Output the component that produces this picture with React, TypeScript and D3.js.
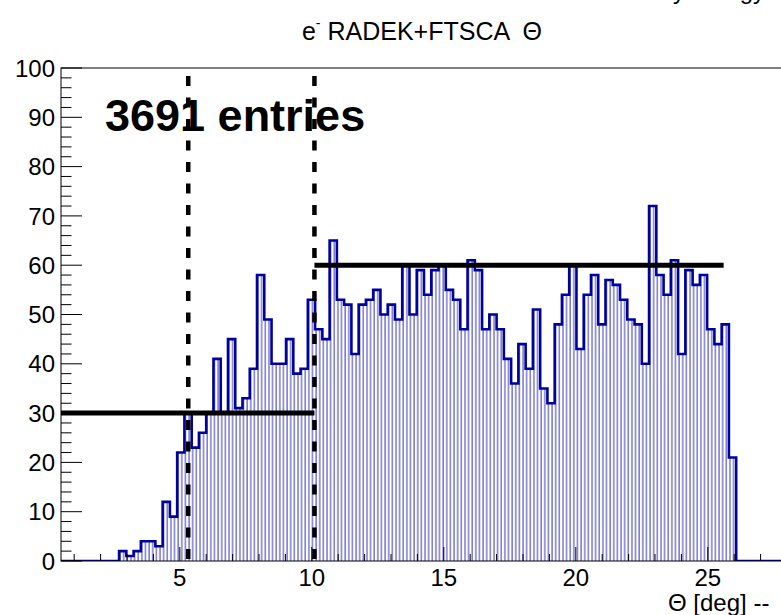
import * as d3 from "d3";
import React from "react";

// histogram: 100 bins over the axis range
const xMin = 0.5;
const xMax = 28.0;
const nBins = 100;
const counts = [
  0, 0, 0, 0, 0, 0, 0, 0,
  2, 1, 2, 4, 4, 3, 12, 9, 22, 30, 23, 26, 30, 41, 30, 45, 31, 33, 39, 58,
  49, 40, 40, 45, 38, 39, 53, 47, 45, 65, 53, 52, 42, 52, 53, 55, 50, 52,
  49, 60, 50, 59, 54, 59, 60, 55, 53, 47, 61, 59, 47, 50, 47, 41, 36, 44,
  39, 51, 35, 32, 48, 54, 60, 43, 54, 58, 48, 57, 56, 53, 49, 48, 40, 72,
  58, 54, 61, 42, 59, 56, 58, 47, 44, 48, 21,
  0, 0, 0, 0, 0, 0, 0,
];
const cutLines = [5.32, 10.1];
const levelLines = [
  { from: 0.5, to: 10.1, value: 30 },
  { from: 10.1, to: 25.6, value: 60 },
];
const xLabels = [5, 10, 15, 20, 25];
const yLabels = [0, 10, 20, 30, 40, 50, 60, 70, 80, 90, 100];
const title = "RADEK+FTSCA  Θ";
const entriesLabel = "3691 entries";
const xTitle = "Θ [deg] --";
const cornerLabel = "Entry energy";

const W = 781;
const H = 615;
const frame = { left: 61, right: 787, top: 68, bottom: 561 };
const font = "'Liberation Sans', Arial, Helvetica, sans-serif";

export default function App() {
  const x = d3.scaleLinear().domain([xMin, xMax]).range([frame.left, frame.right]);
  const y = d3.scaleLinear().domain([0, 100]).range([frame.bottom, frame.top]);
  const bw = (xMax - xMin) / nBins;

  const pts: [number, number][] = counts.map((c, i) => [xMin + i * bw, c]);
  pts.push([xMax, counts[counts.length - 1]]);

  const line = d3
    .line<[number, number]>()
    .x((d) => x(d[0]))
    .y((d) => y(d[1]))
    .curve(d3.curveStepAfter);
  const area = d3
    .area<[number, number]>()
    .x((d) => x(d[0]))
    .y0(y(0))
    .y1((d) => y(d[1]))
    .curve(d3.curveStepAfter);

  const yTicks = d3.range(0, 101, 2);
  const xTicks = d3.range(1, 28.01, 1);
  const hatchStep = (x(xMin + bw) - x(xMin)) / 2;

  return (
    <svg
      width={W}
      height={H}
      style={{ position: "absolute", left: 0, top: 0, background: "#fff" }}
      fontFamily={font}
    >
      <defs>
        <pattern id="hatch" patternUnits="userSpaceOnUse" width={hatchStep} height={10} x={frame.left}>
          <line x1={1} x2={1} y1={0} y2={10} stroke="#4848bc" strokeWidth={1.1} />
        </pattern>
        <clipPath id="plot">
          <rect x={frame.left} y={frame.top - 3} width={W - frame.left} height={frame.bottom - frame.top + 3} />
        </clipPath>
      </defs>

      {/* label cut off by the top edge, only descenders show */}
      <text x={765} y={-1} fontSize={24} textAnchor="end">{cornerLabel}</text>

      <text x={422} y={40} fontSize={25} textAnchor="middle" xmlSpace="preserve" style={{ whiteSpace: "pre" }}>
        e<tspan fontSize={14} dy={-12}>-</tspan>
        <tspan dy={12}>{" " + title}</tspan>
      </text>

      <g clipPath="url(#plot)">
        <path d={area(pts) ?? ""} fill="url(#hatch)" />
        <path d={line(pts) ?? ""} fill="none" stroke="#00009c" strokeWidth={2.6} />
      </g>

      {/* frame */}
      <rect
        x={frame.left}
        y={frame.top}
        width={frame.right - frame.left}
        height={frame.bottom - frame.top}
        fill="none"
        stroke="#000"
        strokeWidth={1}
      />

      {yTicks.map((t) => (
        <line
          key={"yt" + t}
          x1={frame.left}
          x2={frame.left + (t % 10 === 0 ? 21 : 10.5)}
          y1={y(t)}
          y2={y(t)}
          stroke="#000"
          strokeWidth={1}
        />
      ))}
      {xTicks.map((t) => (
        <line
          key={"xt" + t}
          x1={x(t)}
          x2={x(t)}
          y1={frame.bottom}
          y2={frame.bottom - (t % 5 === 0 ? 14 : 7)}
          stroke="#000"
          strokeWidth={1}
        />
      ))}
      {yLabels.map((t) => (
        <text key={"yl" + t} x={55} y={y(t)} dy="0.36em" fontSize={24} textAnchor="end">
          {t}
        </text>
      ))}
      {xLabels.map((t) => (
        <text key={"xl" + t} x={x(t)} y={586} fontSize={24} textAnchor="middle">
          {t}
        </text>
      ))}
      <text x={668} y={611} fontSize={24}>{xTitle}</text>

      <text x={105} y={131} fontSize={45} fontWeight="bold">{entriesLabel}</text>

      {levelLines.map((l, i) => (
        <line
          key={"lv" + i}
          x1={x(l.from)}
          x2={x(l.to)}
          y1={y(l.value)}
          y2={y(l.value)}
          stroke="#000"
          strokeWidth={5}
        />
      ))}
      {cutLines.map((c, i) => (
        <line
          key={"cut" + i}
          x1={x(c)}
          x2={x(c)}
          y1={frame.top + 8}
          y2={frame.bottom}
          stroke="#000"
          strokeWidth={4.5}
          strokeDasharray="10,11.5"
        />
      ))}
    </svg>
  );
}
